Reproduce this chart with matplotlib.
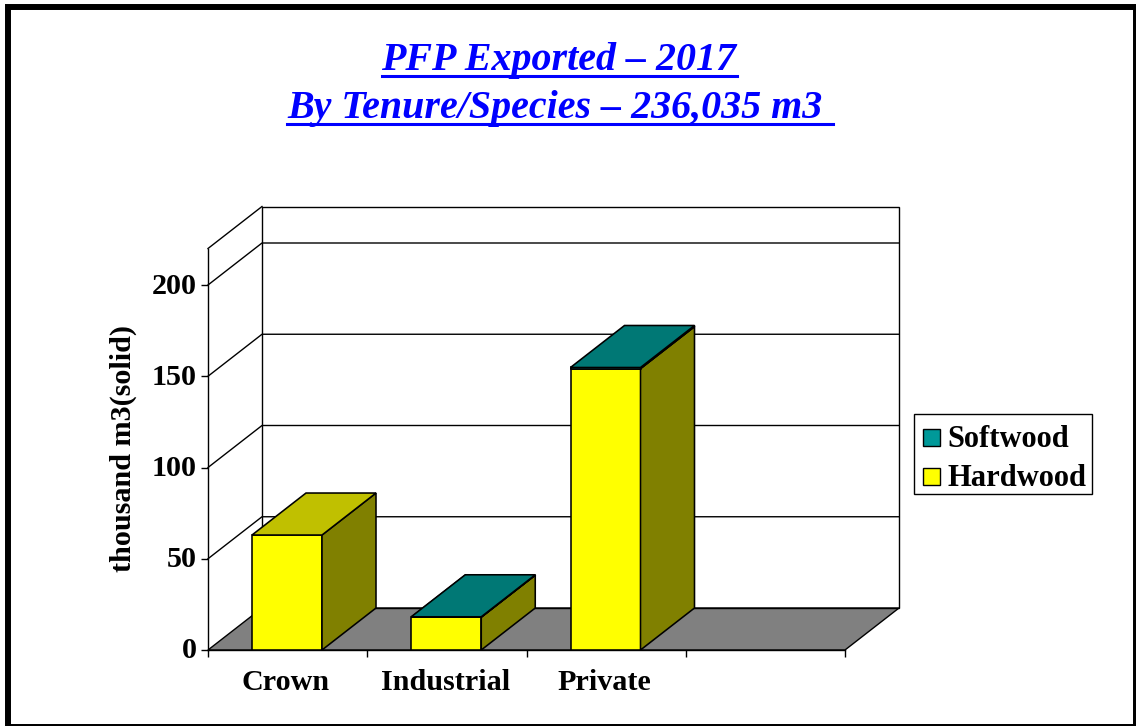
import matplotlib
matplotlib.use("Agg")
import matplotlib.pyplot as plt
from matplotlib.legend_handler import HandlerPatch
from matplotlib.lines import Line2D
from matplotlib.patches import Patch, Rectangle
from matplotlib.transforms import Affine2D

categories = ["Crown", "Industrial", "Private"]
hardwood = [63.0, 18.0, 154.2]
softwood = [0.0, 0.2, 0.6]
y_ticks = [0, 50, 100, 150, 200]
title_lines = ["PFP Exported \u2013 2017", "By Tenure/Species \u2013 236,035 m3 "]

W, H = 1136, 726
Y_MAX = 220
# depth of the fake 3D box, in data units
DX = 54 / 159.25
DY = 42 / 1.825
BAR_W = 70 / 159.25
BAR_X0 = 44 / 159.25

plt.rcParams["font.family"] = ["Liberation Serif", "DejaVu Serif"]
plt.rcParams["font.weight"] = "bold"

fig = plt.figure(figsize=(W / 100, H / 100), dpi=100, facecolor="white")
ax = fig.add_axes([208 / W, (H - 650) / H, 637 / W, Y_MAX * 1.825 / H])
ax.set_xlim(0, 4)
ax.set_ylim(0, Y_MAX)
ax.patch.set_visible(False)
ax.spines["top"].set_visible(False)
ax.spines["right"].set_visible(False)
ax.spines["left"].set_linewidth(1.0)
ax.spines["bottom"].set_linewidth(1.0)


def wall(xs, ys, face="none", z=1, lw=1.0):
    ax.fill(xs, ys, facecolor=face, edgecolor="black", linewidth=lw, clip_on=False, zorder=z)


# floor and back wall
wall([0, 4, 4 + DX, DX], [0, 0, DY, DY], "#808080", 1)
wall([DX, 4 + DX, 4 + DX, DX], [DY, DY, Y_MAX + DY, Y_MAX + DY], "none", 1)
ax.plot([0, DX], [Y_MAX, Y_MAX + DY], color="black", lw=1.0, clip_on=False, zorder=1)
for v in y_ticks[1:]:
    ax.plot([0, DX, 4 + DX], [v, v + DY, v + DY], color="black", lw=1.0, clip_on=False, zorder=1)


def box(x, y0, y1, front, side, top, z):
    wall([x, x + BAR_W, x + BAR_W, x], [y0, y0, y1, y1], front, z, 1.15)
    wall([x + BAR_W, x + BAR_W + DX, x + BAR_W + DX, x + BAR_W], [y0, y0 + DY, y1 + DY, y1], side, z, 1.15)
    wall([x, x + BAR_W, x + BAR_W + DX, x + DX], [y1, y1, y1 + DY, y1 + DY], top, z, 1.15)


for i, name in enumerate(categories):
    x = i + BAR_X0
    box(x, 0, hardwood[i], "#FFFF00", "#808000", "#C0C000", 3)
    if softwood[i] > 0:
        box(x, hardwood[i], hardwood[i] + softwood[i], "#009999", "#808000", "#007875", 4)

ax.set_yticks(y_ticks)
ax.set_yticklabels([str(v) for v in y_ticks], fontsize=21.7)
ax.set_xticks(range(5))
ax.set_xticklabels([])
ax.set_xticks([i + 0.49 for i in range(3)], labels=categories, minor=True, fontsize=21.7)
ax.tick_params(axis="x", which="minor", length=0, pad=14)
ax.tick_params(axis="both", which="major", length=5, width=1.0)
ax.tick_params(axis="y", pad=3)
for lab in ax.get_yticklabels():
    lab.set_transform(lab.get_transform() + Affine2D().translate(0, 2))
ax.set_ylabel("thousand m3(solid)", fontsize=21.7, fontweight="bold")
ax.yaxis.set_label_coords((137 - 208) / 637, (650 - 449) / (Y_MAX * 1.825))


def square(legend, orig_handle, xdescent, ydescent, width, height, fontsize):
    # handle box is in points, 17 px square
    return Rectangle((2.2, ydescent - 1.8), 12.2, 12.2)


# legend, softwood listed first as in the source
handles = [
    Patch(facecolor="#009999", edgecolor="black", linewidth=1.0),
    Patch(facecolor="#FFFF00", edgecolor="black", linewidth=1.0),
]
leg = fig.legend(handles, ["Softwood", "Hardwood"], loc="lower left",
                 bbox_to_anchor=(914 / W, (H - 494) / H), bbox_transform=fig.transFigure,
                 fontsize=22, frameon=True, fancybox=False, framealpha=1, edgecolor="black",
                 handlelength=0.65, handleheight=0.556, handletextpad=0.26, labelspacing=0.34,
                 borderpad=0.19, borderaxespad=0,
                 handler_map={Patch: HandlerPatch(patch_func=square)})
for t in leg.get_texts():
    t.set_y(-5)

# title with underline, matplotlib has no underlined text
tx = [fig.text(x / W, (H - y) / H, s, ha="center", va="baseline", fontsize=28.8,
               fontstyle="italic", fontweight="bold", color="#0000FF")
      for s, x, y in zip(title_lines, [559, 560], [70, 118])]
fig.canvas.draw()
rend = fig.canvas.get_renderer()
for t, y in zip(tx, [76, 124]):
    bb = t.get_window_extent(rend)
    fig.add_artist(Line2D([bb.x0 / W, bb.x1 / W], [(H - y) / H] * 2, color="#0000FF", lw=2.2))

# heavy black frame round the slide
fig.add_artist(Rectangle((7.5 / W, -1 / H), (1136 - 7.5 - 0.5) / W, (H - 6.5 + 1) / H, fill=False,
                         edgecolor="black", linewidth=4.3, transform=fig.transFigure))

fig.savefig("out.png", dpi=100)
